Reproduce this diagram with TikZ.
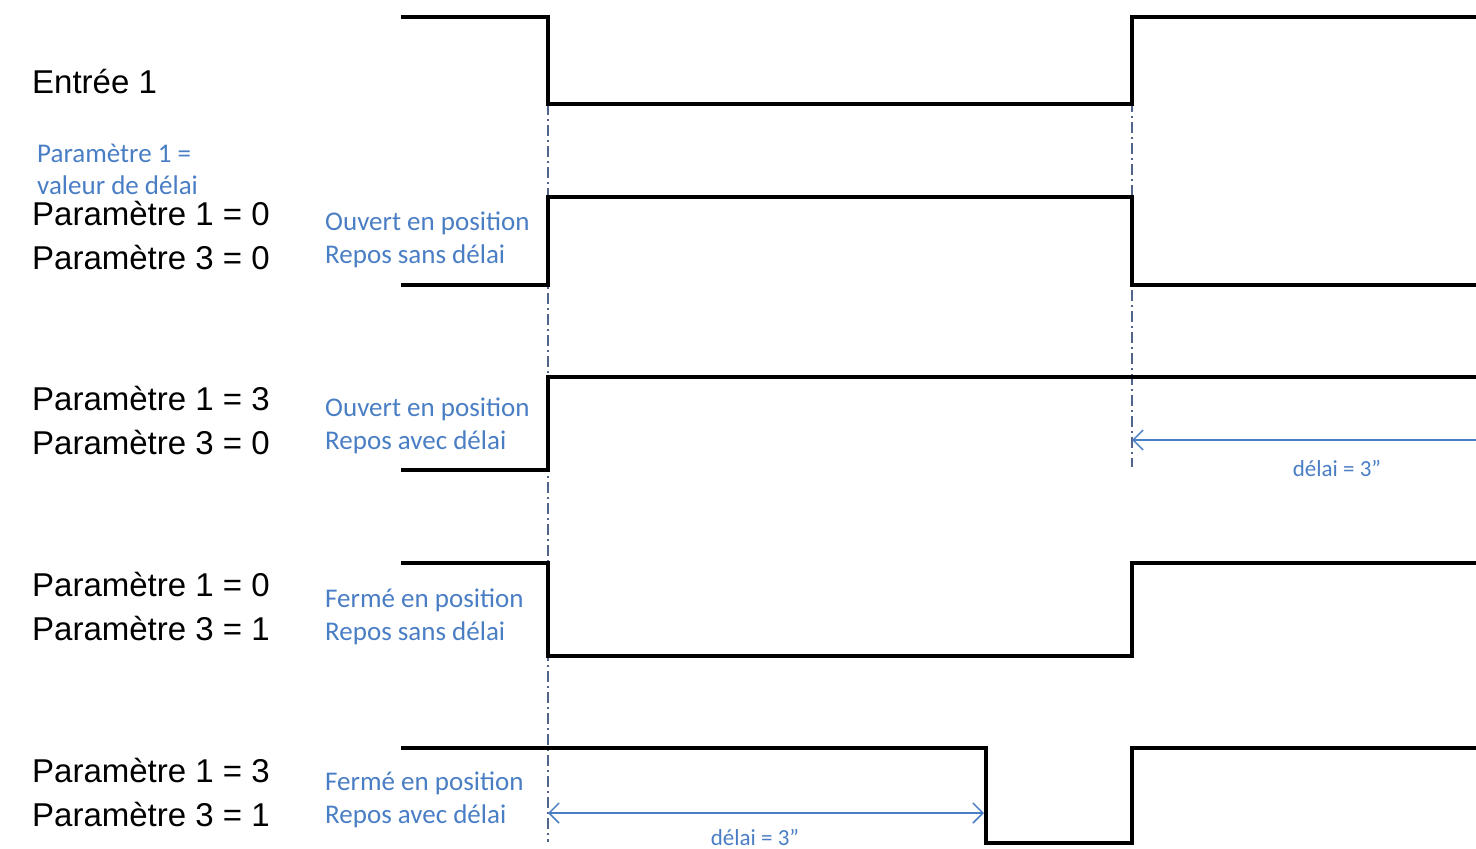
\documentclass[tikz,border=0pt]{standalone}
\usepackage{fontspec}
\setmainfont{Liberation Sans}
\newfontfamily\calibri{Carlito}
\usetikzlibrary{arrows.meta,positioning}
\definecolor{noteblue}{RGB}{74,126,196}
\definecolor{guidegray}{RGB}{80,100,140}
\tikzset{
  signal/.style={line width=4pt,line join=miter},
  guide/.style={guidegray,line width=1.2pt,
    dash pattern=on 11pt off 4pt on 2pt off 4pt},
  delay/.style={noteblue,line width=1.5pt},
  barb/.tip={Straight Barb[length=10pt,width=20pt,line width=1.5pt]}
}

\begin{document}
\begin{tikzpicture}[x=1pt,y=-1pt,
  param/.style={anchor=base west,inner sep=0pt,font=\fontsize{33}{40}\selectfont},
  note/.style={anchor=base west,inner sep=0pt,text=noteblue,
    font=\calibri\fontsize{27}{32}\selectfont},
  delaylabel/.style={anchor=base,inner sep=0pt,text=noteblue,
    font=\calibri\fontsize{23}{28}\selectfont}
]
  \useasboundingbox (0,0) rectangle (1476,849);
  % time marks
  \coordinate (t1) at (548,0);
  \coordinate (t2) at (1132,0);
  \coordinate (t5) at (984,0);
  \coordinate (tend) at (1476,0);
  % guide lines
  \draw[guide] (548,104) -- (548,842);
  \draw[guide] (1132,17) -- (1132,467);
  % input
  \node[param] (entree) at (32,93) {Entrée 1};
  \draw[signal] (401,17) -- (548,17) -- (548,104) -- (1132,104)
    -- (1132,17) -- (1476,17);
  \node[note] (legend1) at (37,162) {Paramètre 1 =};
  \node[note] (legend2) at (37,194) {valeur de délai};
  % parameter labels
  \foreach \y/\pa/\pb in {225/0/0,410/3/0,596/0/1,782/3/1} {
    \node[param] (pa\y) at (32,\y) {Paramètre 1 = \pa};
    \node[param] (pb\y) at (32,\y+44) {Paramètre 3 = \pb};
  }
  \foreach \y/\state/\mode in {230/Ouvert/sans,416/Ouvert/avec,
      607/Fermé/sans,790/Fermé/avec} {
    \node[note] (st\y) at (325,\y) {\state{} en position};
    \node[note] (md\y) at (325,\y+33) {Repos \mode{} délai};
  }
  % outputs
  \draw[signal] (401,285) -- (548,285) -- (548,197) -- (1132,197)
    -- (1132,285) -- (1476,285);
  \draw[signal] (401,470) -- (548,470) -- (548,377) -- (1476,377);
  \draw[signal] (401,563) -- (548,563) -- (548,656) -- (1132,656)
    -- (1132,563) -- (1476,563);
  \draw[signal] (401,748) -- (986,748) -- (986,843) -- (1132,843)
    -- (1132,748) -- (1476,748);
  % delays
  \coordinate (d1a) at (t2 |- 0,440);
  \coordinate (d1b) at (tend |- 0,440);
  \draw[delay,barb-] (d1a) -- (d1b);
  \node[delaylabel] (delai1) at (1337,476) {délai = 3”};
  \coordinate (d2a) at (t1 |- 0,813);
  \coordinate (d2b) at (t5 |- 0,813);
  \draw[delay,barb-barb] (d2a) -- (d2b);
  \node[delaylabel] (delai2) at (755,845) {délai = 3”};
\end{tikzpicture}
\end{document}
